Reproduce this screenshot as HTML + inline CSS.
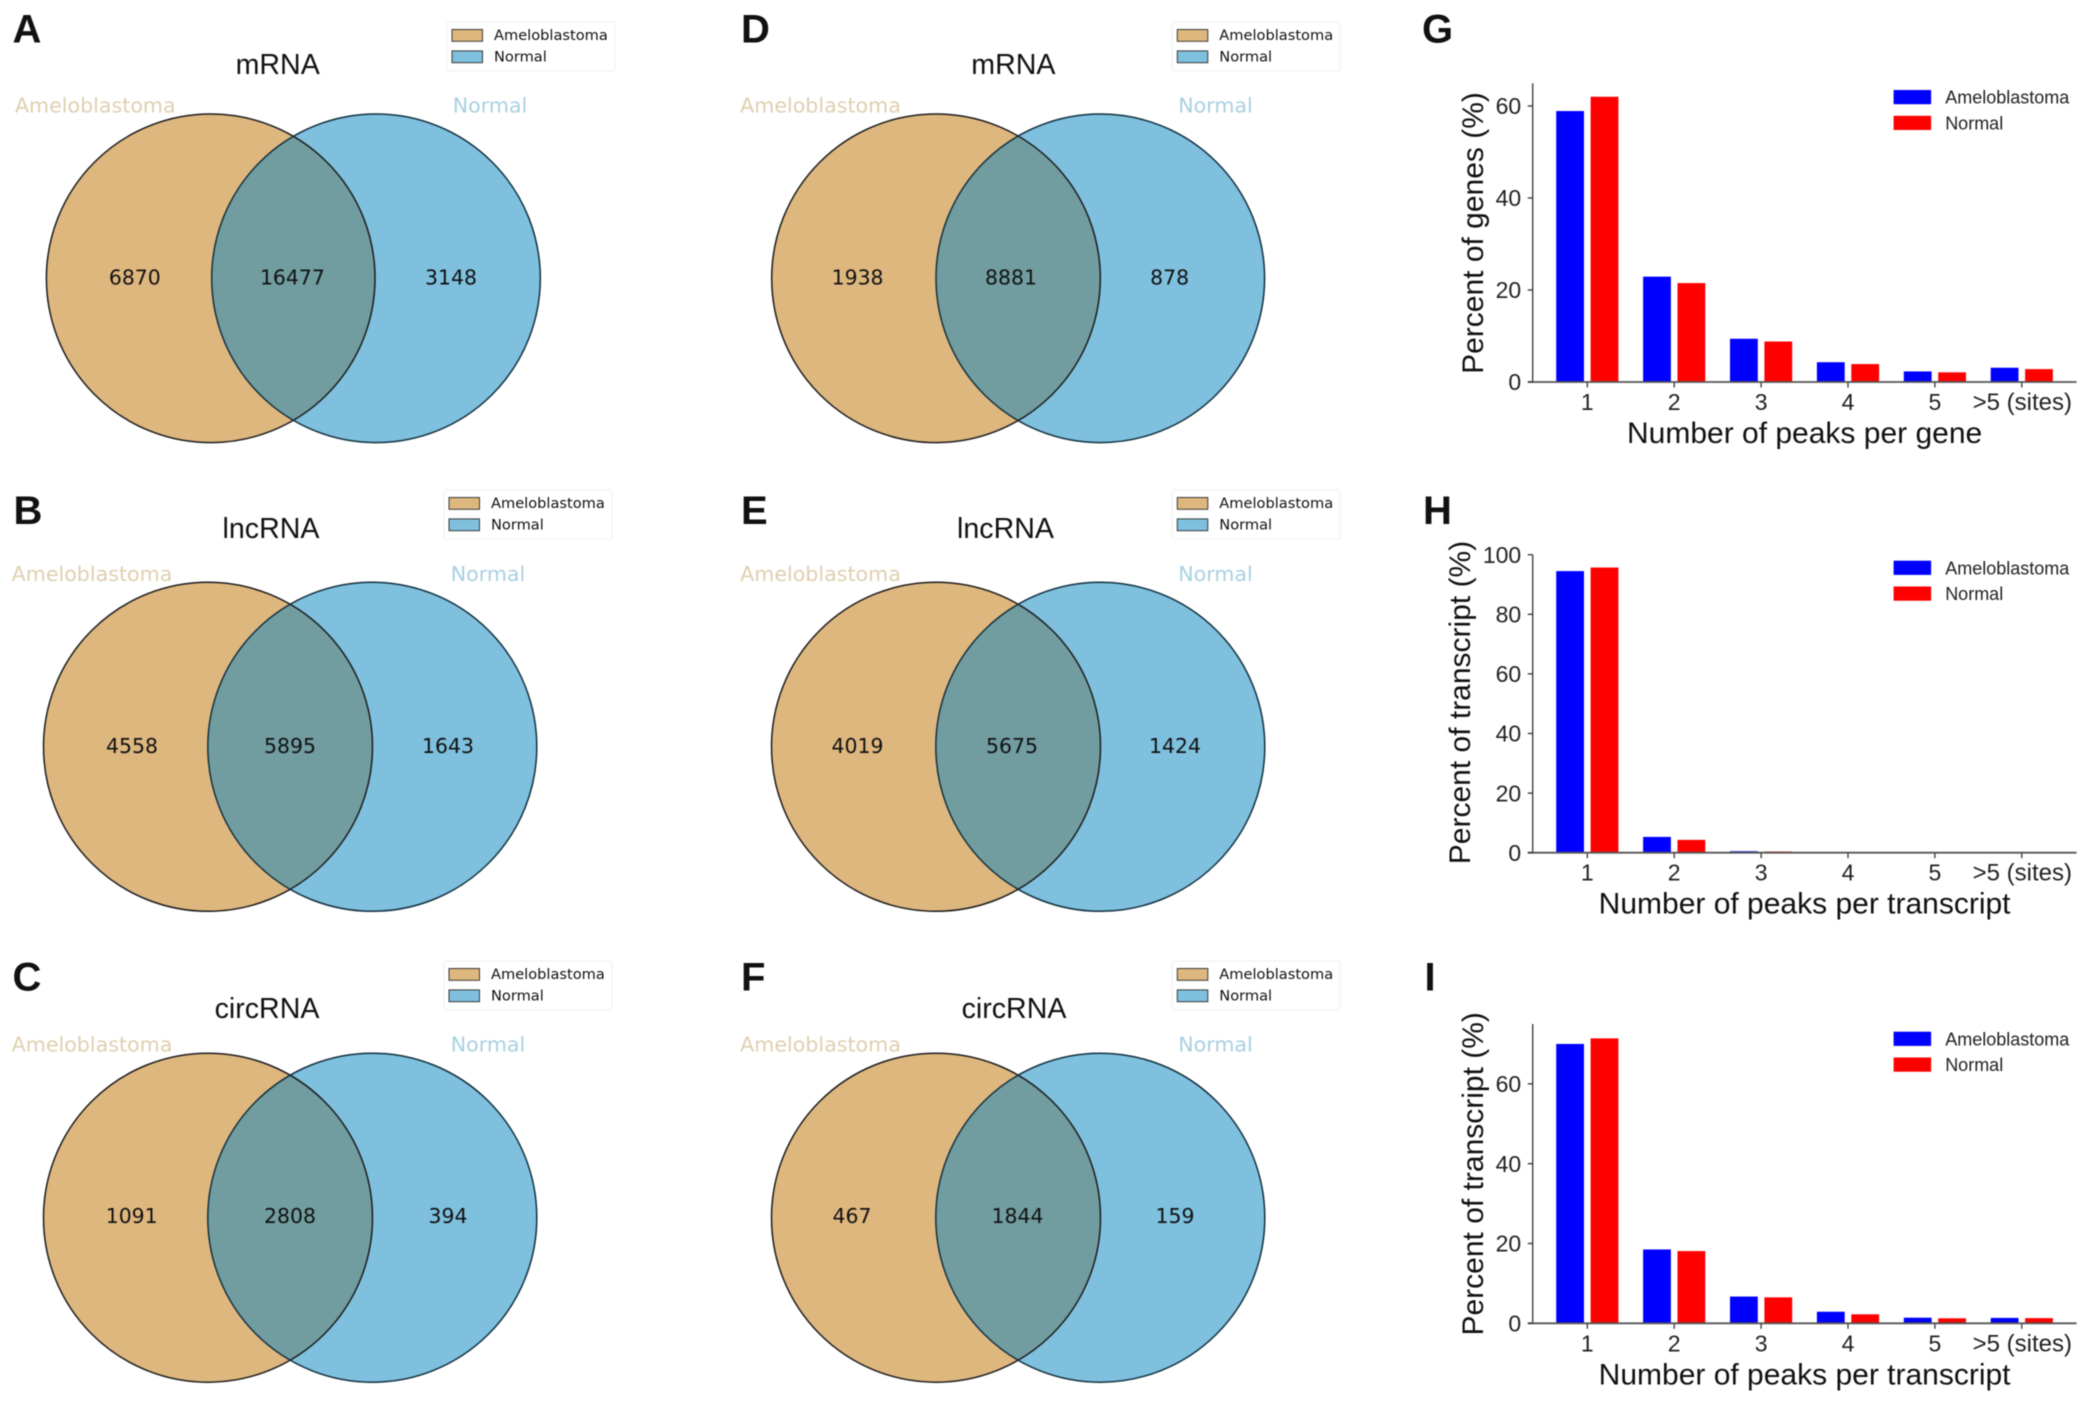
<!DOCTYPE html>
<html lang="en">
<head>
<meta charset="utf-8">
<title>Ameloblastoma versus Normal: Venn diagrams and peak distributions</title>
<style>
  html, body { margin: 0; padding: 0; background: #fff; }
  svg { display: block; filter: blur(0.5px); }
  text { font-family: "Liberation Sans", Arial, sans-serif; fill: #111; }
  .dv { font-family: "DejaVu Sans", sans-serif; }
</style>
</head>
<body>
<svg id="figure" xmlns="http://www.w3.org/2000/svg" width="2091" height="1403" viewBox="0 0 2091 1403">
  <rect x="0" y="0" width="2091" height="1403" fill="#fff"></rect>
</svg>
<script>
// ---- Venn counts (left only, shared, right only) ----
const vennCountsA = [6870, 16477, 3148];
const vennCountsB = [4558, 5895, 1643];
const vennCountsC = [1091, 2808, 394];
const vennCountsD = [1938, 8881, 878];
const vennCountsE = [4019, 5675, 1424];
const vennCountsF = [467, 1844, 159];
const vennSetNames = ['Ameloblastoma', 'Normal'];

// ---- Bar chart data ----
const barCategories = ['1', '2', '3', '4', '5', '>5 (sites)'];
const seriesNames = ['Ameloblastoma', 'Normal'];
const geneAmeloblastoma = [58.9, 22.9, 9.4, 4.3, 2.3, 3.1];
const geneNormal = [62, 21.5, 8.8, 3.9, 2.1, 2.8];
const geneTicks = [0, 20, 40, 60];
const transcriptHAmeloblastoma = [94.5, 5.3, 0.5, 0.2, 0.1, 0.2];
const transcriptHNormal = [95.7, 4.3, 0.4, 0.2, 0.1, 0.15];
const transcriptHTicks = [0, 20, 40, 60, 80, 100];
const transcriptIAmeloblastoma = [70, 18.5, 6.7, 2.9, 1.4, 1.35];
const transcriptINormal = [71.4, 18.1, 6.5, 2.25, 1.25, 1.3];
const transcriptITicks = [0, 20, 40, 60];

const svg = document.getElementById('figure');
const NS = 'http://www.w3.org/2000/svg';
const TAN = '#deb77f';
const BLUE = '#7ec0de';
const OVERLAP = '#719da0';

function make(tag, attrs, parent, content) {
  const el = document.createElementNS(NS, tag);
  for (const k in attrs) el.setAttribute(k, attrs[k]);
  if (content !== undefined) el.textContent = content;
  (parent || svg).appendChild(el);
  return el;
}

function panelLetter(parent, letter, x, y) {
  const el = make('text', { x: x, y: y, 'font-size': 40, 'font-weight': 'bold', fill: '#000' }, parent, letter);
  
  
}

function drawVenn(p, counts) {
  const id = p.letter.toLowerCase();
  const g = make('g', {});
  
  

  panelLetter(g, p.letter, p.letterX, p.letterY);

  const title = make('text', { x: p.titleX, y: p.titleY, 'font-size': 28.6, 'text-anchor': 'middle' }, g, p.title);
  
  

  const cp = make('clipPath', { id: 'clip-' + id }, g);
  make('circle', { cx: p.cxL, cy: p.cy, r: p.r }, cp);

  const left = make('circle', { cx: p.cxL, cy: p.cy, r: p.r, fill: TAN }, g);
  
  

  const right = make('circle', { cx: p.cxR, cy: p.cy, r: p.r, fill: BLUE }, g);
  
  

  const inter = make('circle', { cx: p.cxR, cy: p.cy, r: p.r, fill: OVERLAP, 'clip-path': 'url(#clip-' + id + ')' }, g);
  
  

  const outlineL = make('circle', { cx: p.cxL, cy: p.cy, r: p.r, fill: 'none', stroke: '#1c1c1c', 'stroke-width': 1.5 }, g);
  
  

  const outlineR = make('circle', { cx: p.cxR, cy: p.cy, r: p.r, fill: 'none', stroke: '#12303f', 'stroke-width': 1.5 }, g);
  
  

  const lblL = make('text', { x: p.nameLX, y: p.nameY, 'font-size': 20.6, 'text-anchor': 'middle', class: 'dv', style: 'fill:#dfcfb0' }, g, vennSetNames[0]);
  
  

  const lblR = make('text', { x: p.nameRX, y: p.nameY, 'font-size': 20.6, 'text-anchor': 'middle', class: 'dv', style: 'fill:#a9d0e2' }, g, vennSetNames[1]);
  
  

  counts.forEach(function (value, i) {
    const t = make('text', { x: p.countX[i], y: p.countY, 'font-size': 20.4, 'text-anchor': 'middle', class: 'dv' }, g, String(value));
    
    
  });

  const legend = make('g', {}, g);
  
  
  make('rect', { x: p.legX, y: p.legY, width: 168, height: 49, rx: 2, fill: '#fff', stroke: '#f0f0f0', 'stroke-width': 1 }, legend);
  [TAN, BLUE].forEach(function (color, i) {
    const rowY = p.legY + 7.5 + i * 21.4;
    make('rect', { x: p.legX + 5, y: rowY, width: 30.5, height: 11.8, fill: color, stroke: '#3a3a3a', 'stroke-width': 1 }, legend);
    const t = make('text', { x: p.legX + 47, y: rowY + 10.6, 'font-size': 14.6, class: 'dv' }, legend, vennSetNames[i]);
    
    
  });
}

const vennLayoutA = { letter: 'A', title: 'mRNA', letterX: 12.5, letterY: 42.7, titleX: 277.7, titleY: 74, cxL: 210.7, cxR: 376, cy: 278.3, r: 164.3, nameLX: 95.3, nameRX: 490, nameY: 112.3, countX: [134.8, 292.4, 451], countY: 284.3, legX: 447, legY: 22 };
const vennLayoutB = { letter: 'B', title: 'lncRNA', letterX: 13.5, letterY: 524, titleX: 271, titleY: 538, cxL: 208, cxR: 372.3, cy: 746.8, r: 164.5, nameLX: 92, nameRX: 488, nameY: 581, countX: [132, 290, 448], countY: 753, legX: 444, legY: 490 };
const vennLayoutC = { letter: 'C', title: 'circRNA', letterX: 12.5, letterY: 990.5, titleX: 267, titleY: 1018, cxL: 208, cxR: 372.3, cy: 1217.7, r: 164.5, nameLX: 92, nameRX: 488, nameY: 1051.7, countX: [131.7, 290, 448], countY: 1223, legX: 444, legY: 961 };
const vennLayoutD = { letter: 'D', title: 'mRNA', letterX: 741, letterY: 42.7, titleX: 1013.4, titleY: 74, cxL: 936, cxR: 1100.3, cy: 278.3, r: 164.3, nameLX: 820.5, nameRX: 1215.5, nameY: 112.3, countX: [857.6, 1011, 1169.6], countY: 284.3, legX: 1172.3, legY: 22 };
const vennLayoutE = { letter: 'E', title: 'lncRNA', letterX: 741, letterY: 524, titleX: 1005.5, titleY: 538, cxL: 936, cxR: 1100.3, cy: 746.8, r: 164.5, nameLX: 820.5, nameRX: 1215.5, nameY: 581, countX: [857.5, 1012, 1175], countY: 753, legX: 1172.3, legY: 490 };
const vennLayoutF = { letter: 'F', title: 'circRNA', letterX: 741, letterY: 990.5, titleX: 1014, titleY: 1018, cxL: 936, cxR: 1100.3, cy: 1217.7, r: 164.5, nameLX: 820.5, nameRX: 1215.5, nameY: 1051.7, countX: [852, 1017.5, 1175], countY: 1223, legX: 1172.3, legY: 961 };

drawVenn(vennLayoutA, vennCountsA);
drawVenn(vennLayoutB, vennCountsB);
drawVenn(vennLayoutC, vennCountsC);
drawVenn(vennLayoutD, vennCountsD);
drawVenn(vennLayoutE, vennCountsE);
drawVenn(vennLayoutF, vennCountsF);

function drawBars(c, blueValues, redValues, ticks) {
  const id = c.letter.toLowerCase();
  const g = make('g', {});
  
  

  panelLetter(g, c.letter, c.letterX, c.letterY);

  const axisX = 1532.7;
  const xBand = function (i) { return 1587.3 + i * 86.9; };
  const yScale = function (v) { return c.base - v * (c.base - c.top) / c.domainMax; };
  const barW = 27.8;
  const offset = 17.2;

  barCategories.forEach(function (cat, i) {
    const bTop = yScale(blueValues[i]);
    const b = make('rect', { x: xBand(i) - offset - barW / 2, y: bTop, width: barW, height: c.base - bTop, fill: '#0000ff' }, g);
    
    

    const rTop = yScale(redValues[i]);
    const r = make('rect', { x: xBand(i) + offset - barW / 2, y: rTop, width: barW, height: c.base - rTop, fill: '#ff0000' }, g);
    
    

    make('line', { x1: xBand(i), x2: xBand(i), y1: c.base, y2: c.base + 5.5, stroke: '#333', 'stroke-width': 1.3 }, g);

    const lab = make('text', { x: xBand(i) + (i === 5 ? 0.5 : 0), y: c.base + 28, 'font-size': i === 5 ? 24 : 23, 'text-anchor': 'middle', style: 'fill:#222' }, g, cat);
    
    
  });

  const yAxis = make('line', { x1: axisX, x2: axisX, y1: c.top, y2: c.base, stroke: '#333', 'stroke-width': 1.3 }, g);
  
  

  const xAxis = make('line', { x1: 1527.8, x2: 2076.5, y1: c.base, y2: c.base, stroke: '#555', 'stroke-width': 1.8 }, g);
  
  

  ticks.forEach(function (v) {
    const y = yScale(v);
    make('line', { x1: 1527.8, x2: axisX, y1: y, y2: y, stroke: '#333', 'stroke-width': 1.3 }, g);
    const t = make('text', { x: 1521.2, y: y + 8.2, 'font-size': 23, 'text-anchor': 'end', style: 'fill:#222' }, g, String(v));
    
    
  });

  const xTitle = make('text', { x: 1804.6, y: c.xTitleY, 'font-size': 30, 'text-anchor': 'middle' }, g, c.xTitle);
  
  

  const yTitle = make('text', { x: 0, y: 0, 'font-size': 30, 'text-anchor': 'middle', transform: 'translate(' + c.yTitleX + ' ' + c.yTitleY + ') rotate(-90)' }, g, c.yTitle);
  
  

  const legend = make('g', {}, g);
  
  
  ['#0000ff', '#ff0000'].forEach(function (color, i) {
    const rowY = c.legY + i * 25.8;
    make('rect', { x: 1893.6, y: rowY, width: 37.5, height: 14.2, fill: color }, legend);
    const t = make('text', { x: 1945.2, y: rowY + 13.6, 'font-size': 18, style: 'fill:#222' }, legend, seriesNames[i]);
    
    
  });
}

drawBars({ letter: 'G', letterX: 1422, letterY: 42.7, base: 382, top: 83.3, domainMax: 64.93, xTitle: 'Number of peaks per gene', xTitleY: 443, yTitle: 'Percent of genes (%)', yTitleX: 1482.8, yTitleY: 233, legY: 90 }, geneAmeloblastoma, geneNormal, geneTicks);
drawBars({ letter: 'H', letterX: 1423, letterY: 524, base: 852.7, top: 554.7, domainMax: 100, xTitle: 'Number of peaks per transcript', xTitleY: 913.5, yTitle: 'Percent of transcript (%)', yTitleX: 1470, yTitleY: 702.5, legY: 560.7 }, transcriptHAmeloblastoma, transcriptHNormal, transcriptHTicks);
drawBars({ letter: 'I', letterX: 1424.5, letterY: 990.5, base: 1323.3, top: 1024, domainMax: 75, xTitle: 'Number of peaks per transcript', xTitleY: 1384.5, yTitle: 'Percent of transcript (%)', yTitleX: 1482.8, yTitleY: 1173.8, legY: 1031.7 }, transcriptIAmeloblastoma, transcriptINormal, transcriptITicks);
</script>
</body>
</html>
